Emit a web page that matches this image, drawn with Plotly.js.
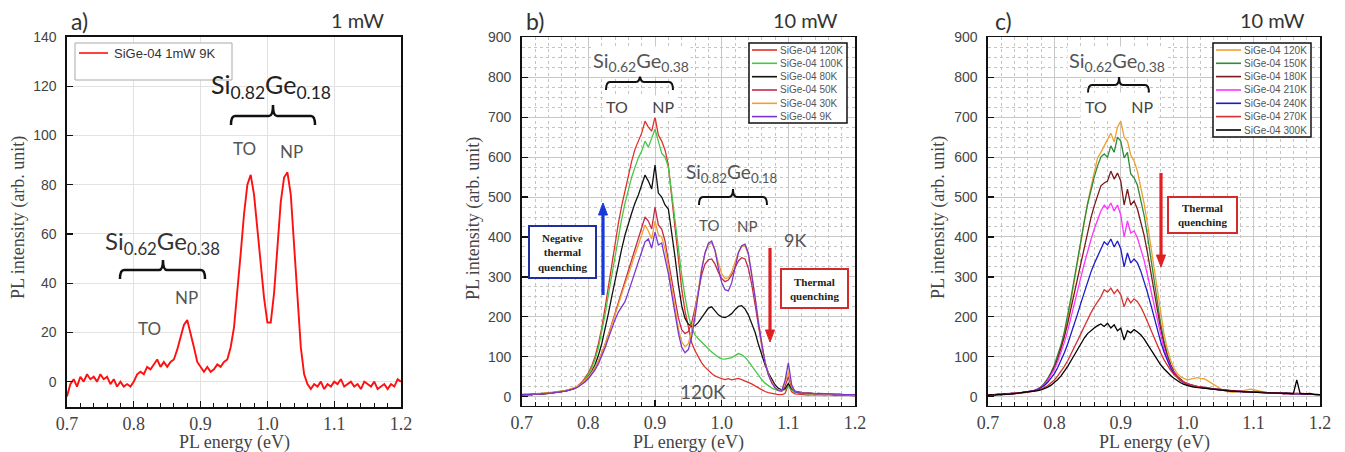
<!DOCTYPE html>
<html><head><meta charset="utf-8">
<script src="https://cdn.plot.ly/plotly-3.0.1.min.js"></script>
<style>html,body{margin:0;padding:0;background:#fff;}#chart{width:1345px;height:452px;}</style>
</head><body><div id="chart"></div>
<script>
const W = 1345, H = 452;
// photon energy sampling (eV), 0.700 ... 1.200
const energy = Array.from({length: 101}, (_, i) => +(0.7 + 0.005 * i).toFixed(3));

// ---- panel a) 1 mW ----
const aName = 'SiGe-04 1mW 9K';
const aIntensity = [-6,-1,1,-2,2,0,3,1,2,0, 3,1,2,-1,1,-2,0,-2,-1,-2, 0,3,4,3,6,5,7,9,6,8,
  6,8,9,13,18,23,25,20,14,8, 6,4,6,4,5,7,6,8,9,14, 22,36,52,68,80,84,76,62,48,34,
  24,24,36,56,73,83,85,76,56,33, 14,3,-1,-3,-1,-2,0,-3,-1,-2, 0,-1,1,-2,-1,0,-2,-1,-3,0,
  -1,-2,0,-3,-2,-1,-3,-1,-2,1, 0];

// ---- panel b) 10 mW, 9K-120K ----
const bNames = ['SiGe-04 120K','SiGe-04 100K','SiGe-04 80K','SiGe-04 50K','SiGe-04 30K','SiGe-04 9K'];
const b120K = [5,4,6,5,7,6,7,8,8,9,10,11,12,14,16,19,
  22,28,36,47,60,77,100,132,172,222,276,330,384,434,478,516,
  555,590,620,640,660,690,675,665,700,655,640,618,580,500,420,340,270,215,170,135,115,98,85,74,65,58,52,48,45,
  43,45,42,44,46,43,40,36,32,27,22,17,13,10,8,6,5,5,8,30,12,7,6,5,
  5,4,5,4,5,4,4,5,4,3,4,3,4,3,3,2];
const b100K = [5,6,5,7,6,7,8,8,9,10,11,12,13,15,17,19,
  22,27,34,44,56,72,93,122,160,205,255,305,355,400,445,485,
  520,550,575,598,615,640,625,650,670,640,610,600,575,510,440,370,305,250,205,172,155,145,136,128,120,112,105,99,95,
  94,96,98,103,108,105,99,89,77,65,53,43,34,27,22,18,15,14,18,28,16,11,9,8,
  8,7,7,6,7,6,6,5,6,5,5,4,5,4,4,3];
const b80K = [4,5,6,5,7,6,8,7,9,9,10,11,12,14,16,18,
  21,26,32,40,50,63,80,103,132,168,208,250,292,332,370,405,
  435,460,485,505,530,555,540,520,580,510,500,480,470,415,350,282,228,196,182,176,178,186,198,212,222,225,216,205,200,
  198,202,208,218,226,228,220,205,185,162,132,104,80,60,43,30,21,17,20,33,20,14,12,10,
  9,9,8,8,7,7,7,6,6,6,5,5,5,4,4,4];
const b50K = [5,6,5,7,6,8,7,9,8,10,11,12,13,15,17,19,
  22,26,32,39,48,59,72,88,107,130,155,182,210,238,265,292,
  320,348,375,400,425,450,440,420,475,430,420,390,340,290,240,198,168,158,163,185,222,265,305,332,343,345,332,312,296,
  288,292,305,324,340,348,345,322,282,232,178,128,88,57,37,24,17,15,25,50,22,13,10,9,
  8,9,8,7,8,7,6,7,6,6,5,6,5,5,4,4];
const b30K = [6,5,7,6,7,8,8,9,9,10,11,12,14,15,17,20,
  23,27,33,40,49,60,73,89,108,130,154,180,207,233,258,282,
  306,330,355,380,405,430,415,395,440,405,400,370,325,272,220,172,138,125,133,165,212,268,322,360,380,385,368,335,308,
  296,298,312,338,362,376,378,355,308,250,188,133,88,57,37,24,17,15,35,62,25,13,10,9,
  8,8,7,8,7,7,6,7,6,6,5,5,5,4,4,4];
const b9K = [5,6,5,6,7,6,8,7,8,9,10,11,12,14,16,18,
  21,25,30,37,45,55,67,82,100,122,146,170,193,212,225,238,
  262,288,314,340,362,388,395,372,412,380,385,345,308,258,208,160,124,110,118,150,200,260,318,360,384,390,366,322,286,
  268,265,285,325,360,378,382,360,310,250,186,130,86,55,35,22,15,14,40,85,30,12,10,9,
  9,8,9,7,8,8,7,8,7,6,7,6,6,5,6,5];
const bColors = ['#e0302a','#44c844','#111111','#c42a4a','#f0a030','#7a35d0'];

// ---- panel c) 10 mW, 120K-300K ----
const cNames = ['SiGe-04 120K','SiGe-04 150K','SiGe-04 180K','SiGe-04 210K','SiGe-04 240K','SiGe-04 270K','SiGe-04 300K'];
const c120K = [3,4,5,4,6,5,7,6,8,8,9,10,11,13,15,18,
  23,31,42,56,74,96,122,155,195,240,290,340,392,440,485,525,
  565,598,612,628,645,660,638,675,690,650,640,605,590,565,525,485,435,380,320,260,205,158,120,92,72,58,50,45,42,
  44,47,48,46,45,41,36,30,24,19,15,13,12,11,12,13,15,17,19,18,16,13,11,10,
  9,9,8,9,8,8,7,8,7,7,6,7,6,6,5,5];
const c150K = [4,5,4,6,5,7,6,8,8,9,10,11,12,14,16,19,
  25,34,46,61,80,103,130,163,203,248,296,346,395,440,482,518,
  550,578,600,608,600,628,612,650,640,598,612,558,548,530,495,455,405,350,292,235,183,140,106,80,62,50,42,36,32,
  29,27,26,24,23,22,20,19,18,17,16,15,15,14,14,13,13,12,12,13,12,11,11,10,
  10,9,9,9,8,9,8,8,7,8,7,7,6,6,6,5];
const c180K = [4,5,5,6,6,7,7,8,8,9,10,11,12,14,16,19,
  24,32,43,57,74,95,120,150,184,222,262,302,342,380,415,448,
  478,505,528,535,540,565,545,560,540,480,520,480,490,470,440,405,362,315,265,215,170,132,102,80,63,51,43,37,33,
  30,28,26,25,23,22,21,20,19,18,17,16,15,15,14,14,13,13,12,13,12,11,11,10,
  10,10,9,9,9,8,8,8,7,8,7,7,6,6,6,5];
const c210K = [5,4,6,5,7,6,8,7,9,9,10,11,12,14,16,19,
  24,31,41,54,69,88,110,136,165,197,230,265,300,333,365,393,
  420,445,465,480,470,485,465,480,455,400,440,410,415,398,372,342,306,268,228,188,152,120,95,75,60,49,41,36,32,
  29,27,25,24,22,21,20,19,18,17,16,16,15,14,14,13,13,12,12,12,11,11,10,10,
  10,9,9,9,8,8,8,7,8,7,7,6,7,6,6,5];
const c240K = [4,5,5,6,6,7,7,8,8,9,10,11,12,13,15,18,
  22,28,36,46,58,73,90,110,132,156,182,208,235,262,288,312,
  333,352,370,388,380,395,375,390,370,325,360,335,345,335,315,290,262,232,200,168,138,112,90,72,58,48,40,35,31,
  28,26,24,23,22,21,20,19,18,17,16,15,15,14,13,13,12,12,12,11,11,11,10,10,
  9,9,9,8,9,8,8,7,8,7,7,6,6,6,5,5];
const c270K = [5,4,5,6,6,7,7,8,8,9,10,10,11,12,14,16,
  19,23,28,34,42,52,63,76,90,106,122,140,158,176,194,210,
  225,238,250,268,262,272,258,268,255,225,248,235,245,238,225,208,188,168,148,128,110,93,78,66,56,48,41,36,32,
  29,27,25,23,22,21,20,19,18,17,16,15,15,14,14,13,13,12,12,12,11,11,10,10,
  10,9,9,9,8,8,8,8,8,9,8,7,7,6,6,5];
const c300K = [3,5,4,6,5,7,6,7,8,8,9,10,11,12,13,15,
  17,20,24,29,35,43,52,63,76,90,105,120,134,147,158,166,
  172,178,182,176,184,172,180,165,172,142,165,160,168,162,155,145,132,118,104,92,80,70,61,53,46,40,35,31,28,
  26,24,23,22,21,20,19,18,17,16,16,15,14,14,13,13,12,12,12,11,11,10,10,10,
  9,9,10,9,8,9,8,8,42,8,7,7,8,6,6,5];
const cColors = ['#f0a030','#2e8b3a','#7a1a1a','#ff33ff','#1a1acc','#d83030','#000000'];

// ---------- traces ----------
const traces = [];
traces.push({x: energy, y: aIntensity, type: 'scatter', mode: 'lines', name: aName,
  line: {color: '#ff1010', width: 1.9}, xaxis: 'x', yaxis: 'y', hoverinfo: 'skip'});
[b120K, b100K, b80K, b50K, b30K, b9K].forEach((s, k) => traces.push({x: energy, y: s, type: 'scatter', mode: 'lines',
  name: bNames[k], line: {color: bColors[k], width: 1.3}, xaxis: 'x2', yaxis: 'y2', hoverinfo: 'skip'}));
[c120K, c150K, c180K, c210K, c240K, c270K, c300K].forEach((s, k) => traces.push({x: energy, y: s, type: 'scatter', mode: 'lines',
  name: cNames[k], line: {color: cColors[k], width: 1.3}, xaxis: 'x3', yaxis: 'y3', hoverinfo: 'skip'}));

// ---------- decorations (pixel helpers) ----------
const PX = v => v / W, PY = v => 1 - v / H;
const shapes = [], annotations = [];
const LABEL = 'Lato, "Open Sans", sans-serif';
const SERIF = '"Liberation Serif", "Times New Roman", serif';
const SANS = '"Liberation Sans", Arial, sans-serif';
function txt(x, y, t, opt) {
  annotations.push(Object.assign({xref: 'paper', yref: 'paper', x: PX(x), y: PY(y), text: t, showarrow: false,
    xanchor: 'center', yanchor: 'middle', font: {family: LABEL, size: 18, color: '#444'}}, opt || {}));
}
function seg(x0, y0, x1, y1, color, width) {
  shapes.push({type: 'line', xref: 'paper', yref: 'paper', x0: PX(x0), y0: PY(y0), x1: PX(x1), y1: PY(y1), line: {color: color, width: width}});
}
function box(x0, y0, x1, y1, color, width) {
  shapes.push({type: 'rect', xref: 'paper', yref: 'paper', x0: PX(x0), y0: PY(y0), x1: PX(x1), y1: PY(y1), line: {color: color, width: width}, fillcolor: 'rgba(255,255,255,1)', layer: 'above'});
}
const P = (x, y) => PX(x).toFixed(5) + ',' + PY(y).toFixed(5);
function bracket(x1, x2, yTop, yEnd, cx, yTip, width) {
  const r = 4;
  const path = 'M' + P(x1, yEnd) + ' Q' + P(x1, yTop) + ' ' + P(x1 + r, yTop) + ' L' + P(cx - r, yTop) +
    ' Q' + P(cx, yTop) + ' ' + P(cx, yTip) + ' Q' + P(cx, yTop) + ' ' + P(cx + r, yTop) +
    ' L' + P(x2 - r, yTop) + ' Q' + P(x2, yTop) + ' ' + P(x2, yEnd);
  shapes.push({type: 'path', xref: 'paper', yref: 'paper', path: path, line: {color: '#111', width: width}});
}
function arrow(x, yHead, yTail, color) {
  const dir = yHead < yTail ? 1 : -1;        // 1: pointing up
  const base = yHead + dir * 12;
  seg(x, yTail, x, base, color, 3.2);
  shapes.push({type: 'path', xref: 'paper', yref: 'paper', path: 'M' + P(x - 4.5, base) + ' L' + P(x, yHead) + ' L' + P(x + 4.5, base) + ' Z',
    fillcolor: color, line: {color: color, width: 1}});
}
function legendBox(x0, y0, x1, y1, border, bw, lx0, lx1, tx, ys, names, colors, fsize, fcolor) {
  box(x0, y0, x1, y1, border, bw);
  names.forEach((n, k) => {
    seg(lx0, ys[k], lx1, ys[k], colors[k], 1.6);
    txt(tx, ys[k], n, {xanchor: 'left', font: {family: SANS, size: fsize, color: fcolor}});
  });
}
const sub = (a, b, c, d) => a + '<sub>' + b + '</sub>' + c + '<sub>' + d + '</sub>';
const YTITLE = 'PL intensity (arb. unit)', XTITLE = 'PL energy (eV)';
function ytitle(x, y) {
  txt(x, y, YTITLE, {textangle: -90, font: {family: SERIF, size: 18, color: '#444'}});
}
function xtitle(x, y) {
  txt(x, y, XTITLE, {font: {family: SERIF, size: 18, color: '#444'}});
}

// panel a
txt(79, 21, 'a)', {font: {family: LABEL, size: 23, color: '#333'}});
txt(357, 20, '1 mW', {font: {family: LABEL, size: 20, color: '#333'}});
legendBox(75, 43, 232, 80, '#aaaaaa', 1, 79, 108, 112, [53], [aName], ['#ff1010'], 13, '#333');
txt(271, 86, sub('Si', '0.82', 'Ge', '0.18'), {font: {family: LABEL, size: 25, color: '#222'}});
bracket(231, 315, 116, 125, 273, 105, 2.5);
txt(244, 148, 'TO', {font: {family: LABEL, size: 17, color: '#555'}});
txt(291, 151, 'NP', {font: {family: LABEL, size: 17, color: '#555'}});
txt(162, 242, sub('Si', '0.62', 'Ge', '0.38'), {font: {family: LABEL, size: 24, color: '#333'}});
bracket(120, 205, 270, 279, 163, 260, 2.5);
txt(186, 297, 'NP', {font: {family: LABEL, size: 17, color: '#555'}});
txt(149, 328, 'TO', {font: {family: LABEL, size: 17, color: '#555'}});
ytitle(18, 218);
xtitle(234, 442);

// panel b
txt(535, 21, 'b)', {font: {family: LABEL, size: 23, color: '#333'}});
txt(805, 20, '10 mW', {font: {family: LABEL, size: 20, color: '#333'}});
legendBox(749, 43, 847, 123, '#111', 1.5, 752, 777, 778, [50, 63.3, 76.7, 90, 103.3, 116.6], bNames, bColors, 10, '#555');
txt(641, 62, sub('Si', '0.62', 'Ge', '0.38'), {font: {family: LABEL, size: 20, color: '#555'}, bgcolor: '#fff'});
bracket(606, 673, 82, 90, 640, 74, 2);
txt(640, 106, 'TO&nbsp;&nbsp;&nbsp;&nbsp;&nbsp;&nbsp;NP', {font: {family: LABEL, size: 16, color: '#444'}, bgcolor: '#fff'});
txt(731, 173, sub('Si', '0.82', 'Ge', '0.18'), {font: {family: LABEL, size: 19, color: '#555'}});
bracket(699, 767, 197, 205, 733, 189, 2);
txt(709, 225, 'TO', {font: {family: LABEL, size: 15, color: '#555'}});
txt(747, 226, 'NP', {font: {family: LABEL, size: 15, color: '#555'}});
txt(795, 240, '9K', {font: {family: LABEL, size: 18, color: '#555'}});
txt(703, 391, '120K', {font: {family: LABEL, size: 19, color: '#555'}});
box(529, 226, 596, 278, '#1f2fa0', 2);
txt(562.5, 252, '<b>Negative<br>thermal<br>quenching</b>', {font: {family: SERIF, size: 11, color: '#222'}});
arrow(603, 203, 295, '#1838d8');
box(781, 269, 848, 308, '#d42a2a', 2);
txt(814.5, 288.5, '<b>Thermal<br>quenching</b>', {font: {family: SERIF, size: 11, color: '#222'}});
arrow(770, 342, 248, '#e02020');
ytitle(473, 218);
xtitle(688, 442);

// panel c
txt(1003, 21, 'c)', {font: {family: LABEL, size: 23, color: '#333'}});
txt(1272, 20, '10 mW', {font: {family: LABEL, size: 20, color: '#333'}});
legendBox(1213, 43, 1311, 137, '#111', 1.5, 1216, 1241, 1242, [50, 63.3, 76.6, 90, 103.3, 116.6, 130], cNames, cColors, 10, '#555');
txt(1117, 62, sub('Si', '0.62', 'Ge', '0.38'), {font: {family: LABEL, size: 20, color: '#555'}, bgcolor: '#fff'});
bracket(1088, 1149, 85, 93, 1119, 77, 2);
txt(1119, 107, 'TO&nbsp;&nbsp;&nbsp;&nbsp;&nbsp;&nbsp;NP', {font: {family: LABEL, size: 16, color: '#444'}, bgcolor: '#fff', borderpad: 4});
box(1168, 197, 1237, 233, '#d42a2a', 2);
txt(1202.5, 215, '<b>Thermal<br>quenching</b>', {font: {family: SERIF, size: 11, color: '#222'}});
arrow(1161, 267, 173, '#e02020');
ytitle(938, 218);
xtitle(1154, 442);

// ---------- axes ----------
function xAxis(domain, anchor, grid, minorGrid) {
  return {domain: domain, anchor: anchor, range: [0.7, 1.2], tick0: 0, dtick: 0.1, tickformat: '.1f',
    ticks: 'inside', ticklen: 6, tickwidth: 1.2, tickcolor: '#111', showline: true, linecolor: '#111', linewidth: 1.6, mirror: true,
    showgrid: true, gridcolor: grid, gridwidth: 1, zeroline: false, fixedrange: true,
    tickfont: {family: SERIF, size: 18, color: '#444'},
    minor: {dtick: 0.02, tick0: 0, ticks: 'inside', ticklen: 4, tickwidth: 1, tickcolor: '#111',
      showgrid: minorGrid, gridcolor: '#c4c4c4', griddash: 'dot', gridwidth: 1}};
}
function yAxis(domain, anchor, range, dtick, grid, minorDt) {
  const ax = {domain: domain, anchor: anchor, range: range, tick0: 0, dtick: dtick,
    ticks: 'inside', ticklen: 6, tickwidth: 1.2, tickcolor: '#111', showline: true, linecolor: '#111', linewidth: 1.6, mirror: true,
    showgrid: true, gridcolor: grid, gridwidth: 1, zeroline: false, fixedrange: true, ticklabelstandoff: 6,
    tickfont: {family: SANS, size: 14, color: '#444'}};
  if (minorDt) ax.minor = {dtick: minorDt, tick0: 0, ticks: '', showgrid: true, gridcolor: '#c4c4c4', griddash: 'dot', gridwidth: 1};
  return ax;
}

const layout = {
  width: W, height: H, margin: {l: 0, r: 0, t: 0, b: 0}, paper_bgcolor: '#fff', plot_bgcolor: '#fff', showlegend: false,
  xaxis: xAxis([67 / W, 401 / W], 'y', '#e2e2e2', false),
  yaxis: yAxis([1 - 407 / H, 1 - 37 / H], 'x', [-10.3, 140], 20, '#e2e2e2', null),
  xaxis2: xAxis([521.7 / W, 855 / W], 'y2', '#c8c8c8', true),
  yaxis2: yAxis([1 - 405.7 / H, 1 - 37.3 / H], 'x2', [-22.5, 900], 100, '#c8c8c8', 25),
  xaxis3: xAxis([988 / W, 1320 / W], 'y3', '#c8c8c8', true),
  yaxis3: yAxis([1 - 405.7 / H, 1 - 37.3 / H], 'x3', [-22.5, 900], 100, '#c8c8c8', 25),
  shapes: shapes, annotations: annotations
};
Plotly.newPlot('chart', traces, layout, {staticPlot: true, displayModeBar: false});
</script></body></html>
